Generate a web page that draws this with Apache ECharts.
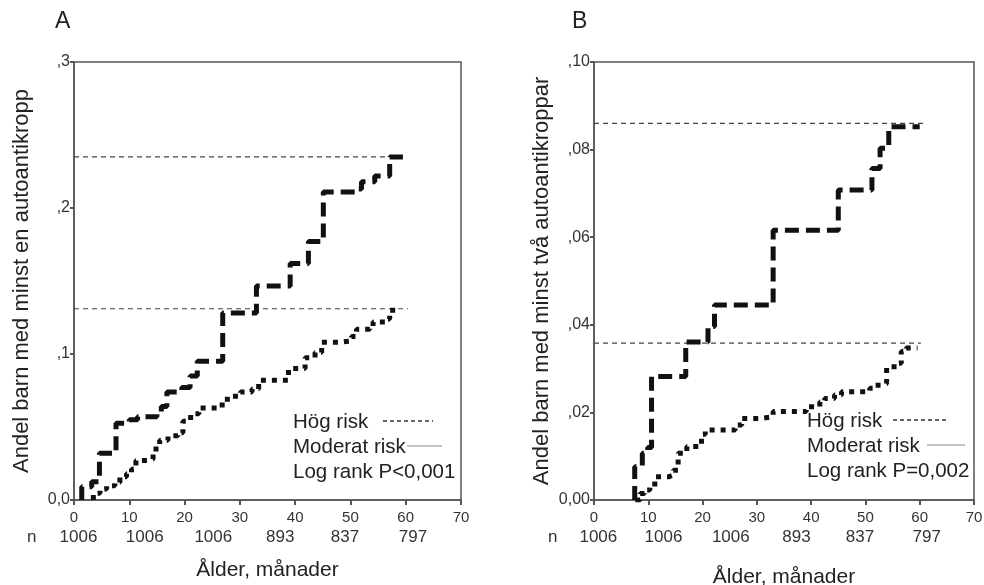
<!DOCTYPE html>
<html><head><meta charset="utf-8">
<script src="https://cdn.jsdelivr.net/npm/echarts@6/dist/echarts.min.js"></script>
<style>html,body{margin:0;padding:0;background:#fff}#c{width:984px;height:585px}</style>
</head><body><div id="c"></div>
<script>
// ---- data (months, cumulative proportion) ----
const highA = [[1.4,0],[1.4,0.009],[3.2,0.0125],[4.6,0.032],[7.6,0.0525],[10,0.055],[11.5,0.057],[15,0.06],[15.8,0.064],[16.8,0.074],[19.5,0.077],[21,0.085],[22.3,0.095],[26.9,0.128],[33,0.1466],[39.1,0.162],[42.4,0.177],[45.1,0.211],[50.8,0.213],[52,0.218],[54.4,0.222],[57.1,0.235],[59.5,0.235]];
const modA = [[3.5,0],[3.5,0.0046],[4.7,0.0075],[5.9,0.0098],[7.4,0.012],[8.3,0.016],[9.5,0.018],[10.4,0.021],[11.2,0.027],[13.4,0.028],[14.3,0.035],[15.5,0.041],[17,0.044],[18.8,0.046],[19.7,0.054],[21.1,0.059],[22.6,0.063],[26.8,0.069],[28.6,0.071],[30.1,0.074],[32.2,0.076],[33.4,0.082],[38.8,0.09],[41.8,0.0975],[43.6,0.101],[44.8,0.108],[47.8,0.109],[50.2,0.112],[51.1,0.117],[53.5,0.119],[54.1,0.122],[56.5,0.124],[57.1,0.130],[58.6,0.131]];
const highB = [[7.5,0],[7.5,0.0076],[8.9,0.0107],[9.9,0.012],[10.6,0.0282],[16.9,0.0361],[21,0.0396],[22.2,0.0445],[33,0.0616],[45,0.0708],[51.2,0.0757],[52.7,0.0803],[54.3,0.0852],[60,0.0852]];
const modB = [[7.6,0],[8.5,0.0015],[9.3,0.0023],[10.3,0.003],[11.2,0.0053],[13.7,0.0057],[14.6,0.0068],[15.5,0.0107],[17.1,0.0122],[19.8,0.015],[20.5,0.016],[26,0.0171],[27.2,0.0186],[30.5,0.019],[33,0.0202],[39.1,0.0213],[41.6,0.0224],[42.5,0.0232],[44.3,0.024],[45.6,0.0247],[50.8,0.0255],[51.4,0.0262],[53.2,0.0266],[53.9,0.0304],[56,0.0312],[56.6,0.0339],[57.5,0.0347],[59.6,0.0347]];
const refA = [[0.235, 59.5],[0.131, 60.4]];
const refB = [[0.086, 61],[0.0358, 60.2]];
const nLabels = ['1006','1006','1006','893','837','797'];
const nMonths = [0.8,12.8,25.2,37.3,49,61.3];
const yTitleA = 'Andel barn med minst en autoantikropp';
const yTitleB = 'Andel barn med minst två autoantikroppar';
const xTitle = 'Ålder, månader';
const legendA = ['Hög risk','Moderat risk','Log rank P<0,001'];
const legendB = ['Hög risk','Moderat risk','Log rank P=0,002'];

const FONT = '"Liberation Sans", Arial, Helvetica, sans-serif';
const AX = '#555';
const chart = echarts.init(document.getElementById('c'));

function xAx(idx){
  return {gridIndex: idx, type:'value', min:0, max:70, interval:10,
    name: xTitle, nameLocation:'middle', nameGap: idx===0?60:67,
    nameTextStyle:{fontFamily:FONT, fontSize:21, color:'#222'},
    axisLine:{lineStyle:{color:AX, width:1.5}}, axisTick:{length:5, lineStyle:{color:AX,width:2}},
    axisLabel:{fontFamily:FONT, fontSize:15, color:'#333', margin:10}, splitLine:{show:false}};
}
function yAx(idx, max, interval, fmt, title){
  return {gridIndex: idx, type:'value', min:0, max:max, interval:interval,
    name: title, nameLocation:'middle', nameGap: 41, nameRotate: 90,
    nameTextStyle:{fontFamily:FONT, fontSize:22, color:'#222'},
    axisLine:{lineStyle:{color:AX, width:1.5}}, axisTick:{length:4, lineStyle:{color:AX,width:2}},
    axisLabel:{fontFamily:FONT, fontSize:16, color:'#333', margin:4, formatter: fmt}, splitLine:{show:false}};
}
const fmtA = v => v===0 ? '0,0' : ',' + Math.round(v*10);
const fmtB = v => v===0 ? '0,00' : ',' + String(Math.round(v*100)).padStart(2,'0');

function stepSeries(data, idx, type){
  return {type:'line', xAxisIndex: idx, yAxisIndex: idx, data: data, step:'end', symbol:'none', silent:true,
    lineStyle: type==='high' ? {color:'#111', width:5, type:[14,7], cap:'butt'} : {color:'#111', width:5, type:[5,6], cap:'butt'}};
}
function refSeries(r, idx){
  return {type:'line', xAxisIndex: idx, yAxisIndex: idx, data: [[0, r[0]],[r[1], r[0]]], symbol:'none', silent:true,
    lineStyle:{color:'#444', width:1.2, type:[5,4]}};
}

chart.setOption({
  animation:false,
  grid:[{left:74, top:62, width:387, height:438, show:true, borderColor:AX, borderWidth:1.5, containLabel:false, outerBoundsMode:'none'},
        {left:594, top:62, width:380, height:438, show:true, borderColor:AX, borderWidth:1.5, containLabel:false, outerBoundsMode:'none'}],
  xAxis:[xAx(0), xAx(1)],
  yAxis:[yAx(0, 0.3, 0.1, fmtA, yTitleA), yAx(1, 0.1, 0.02, fmtB, yTitleB)],
  series:[
    refSeries(refA[0],0), refSeries(refA[1],0),
    refSeries(refB[0],1), refSeries(refB[1],1),
    stepSeries(highA,0,'high'), stepSeries(modA,0,'mod'),
    stepSeries(highB,1,'high'), stepSeries(modB,1,'mod')
  ]
});

const g = [];
g.push({type:'text', left:55, top:10, style:{text:'A', font:'23px '+FONT, fill:'#222'}});
g.push({type:'text', left:572, top:10, style:{text:'B', font:'23px '+FONT, fill:'#222'}});
[[0,27],[1,548]].forEach(([idx, nx])=>{
  const y = chart.convertToPixel({gridIndex:idx}, [0,0])[1] + 37;
  g.push({type:'text', x:nx, y:y, style:{text:'n', font:'17px '+FONT, fill:'#333', textVerticalAlign:'middle'}});
  nLabels.forEach((t,i)=>{
    const px = chart.convertToPixel({gridIndex:idx}, [nMonths[i],0]);
    g.push({type:'text', x:px[0], y:y, style:{text:t, font:'17px '+FONT, fill:'#333', textAlign:'center', textVerticalAlign:'middle'}});
  });
});
function legend(lx, ly, texts, dash1, dash2){
  texts.forEach((t,i)=>{
    g.push({type:'text', x:lx, y:ly + i*25, style:{text:t, font:'20.5px '+FONT, fill:'#222', textVerticalAlign:'middle'}});
  });
  g.push({type:'line', shape:{x1:dash1[0], y1:ly-1, x2:dash1[1], y2:ly-1}, style:{stroke:'#333', lineWidth:1.3, lineDash:[4,3]}});
  g.push({type:'line', shape:{x1:dash2[0], y1:ly+24, x2:dash2[1], y2:ly+24}, style:{stroke:'#888', lineWidth:1}});
}
legend(293, 422, legendA, [383,433], [407,442]);
legend(807, 421, legendB, [893,947], [927,965]);
chart.setOption({graphic: g});
</script></body></html>
